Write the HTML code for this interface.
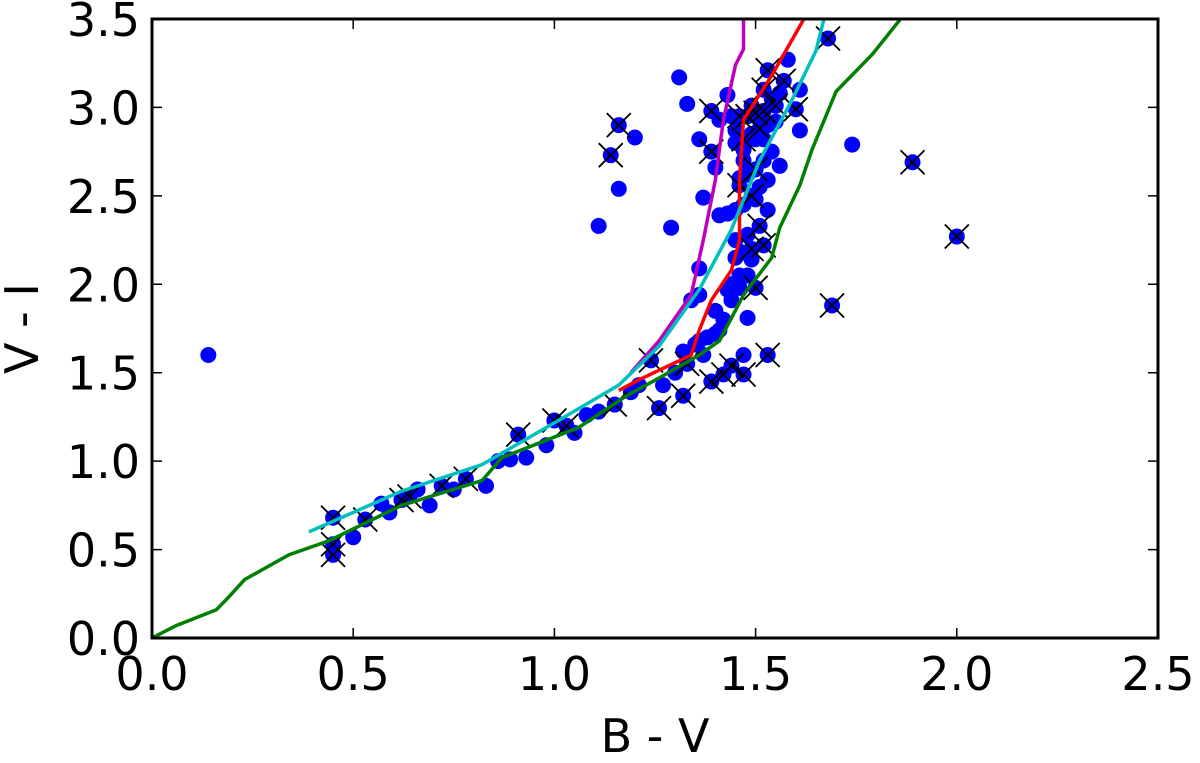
<!DOCTYPE html>
<html><head><meta charset="utf-8"><style>
body{margin:0;background:#fff}
svg text{font-family:"DejaVu Sans","Liberation Sans",sans-serif;fill:#000}
</style></head><body>
<svg id="chart" width="1200" height="758" xmlns="http://www.w3.org/2000/svg">
<g id="plot"></g>
</svg>
<script>
const xTicks=[0.0,0.5,1.0,1.5,2.0,2.5];
const yTicks=[0.0,0.5,1.0,1.5,2.0,2.5,3.0,3.5];
const ptsX=[0.14,0.45,0.45,0.45,0.50,0.53,0.57,0.59,0.62,0.64,0.66,0.69,0.72,0.75,0.78,0.83,0.86,0.89,0.91,0.93,0.98,1.0,1.03,1.05,1.08,1.11,1.15,1.19,1.21,1.24,1.26,1.27,1.30,1.32,1.32,1.35,1.36,1.39,1.41,1.42,1.44,1.47,1.47,1.53,1.50,1.48,1.44,1.40,1.36,1.34,1.36,1.29,1.11,1.16,1.14,1.16,1.20,1.31,1.33,1.36,1.40,1.37,1.39,1.41,1.39,1.43,1.45,1.47,1.46,1.41,1.45,1.48,1.50,1.51,1.52,1.53,1.53,1.56,1.49,1.52,1.53,1.57,1.58,1.61,1.60,1.55,1.61,1.51,1.49,1.46,1.43,1.74,1.68,1.89,2.0,1.69,1.47,1.50,1.52,
1.44,1.46,1.48,1.50,1.52,1.54,1.56,1.45,1.47,1.49,1.51,1.53,1.55,1.46,1.48,1.50,1.52,1.54,1.43,1.45,1.47,1.49,1.51,1.45,1.47,1.49,1.44,1.46,1.48,1.42,1.38,1.40,1.37,1.33];
const ptsY=[1.60,0.68,0.53,0.47,0.57,0.67,0.76,0.71,0.78,0.80,0.84,0.75,0.86,0.84,0.90,0.86,1.0,1.01,1.15,1.02,1.09,1.23,1.2,1.16,1.26,1.28,1.32,1.39,1.43,1.57,1.30,1.43,1.50,1.62,1.37,1.66,1.68,1.45,1.74,1.49,1.54,1.49,1.60,1.60,1.98,1.81,1.91,1.85,1.94,1.91,2.09,2.32,2.33,2.54,2.73,2.90,2.83,3.17,3.02,2.82,2.66,2.49,2.75,2.93,2.98,3.07,2.87,2.76,2.56,2.39,2.25,2.28,2.48,2.33,2.22,2.42,2.59,2.67,3.01,3.10,3.21,3.15,3.27,3.10,2.99,3.01,2.87,2.93,2.14,2.05,1.97,2.79,3.39,2.69,2.27,1.88,2.70,2.82,2.82,
2.95,2.95,2.95,2.97,2.98,3.05,3.08,2.80,2.82,2.85,2.88,2.90,2.92,2.60,2.62,2.65,2.70,2.75,2.40,2.42,2.45,2.50,2.55,2.15,2.18,2.20,2.00,1.98,2.05,1.80,1.70,1.72,1.60,1.55];
const ptsFlag=[0,1,1,1,0,1,0,0,1,1,0,0,1,0,1,0,0,0,1,0,0,1,1,0,0,0,1,0,0,1,1,0,0,0,1,0,0,1,0,1,1,1,0,1,1,0,0,0,0,0,0,0,0,0,1,1,0,0,0,0,0,0,1,0,1,0,0,0,1,0,0,0,0,1,1,0,0,0,0,1,1,1,0,0,1,1,0,0,0,0,0,0,1,1,1,1,0,0,0,
0,1,1,1,1,0,0,0,1,0,1,0,0,0,0,1,0,0,0,0,0,1,0,0,0,1,0,0,0,0,0,0,0,1];
const greenX=[0,0.06,0.16,0.19,0.23,0.34,0.44,0.62,0.82,0.87,1.06,1.18,1.26,1.36,1.41,1.47,1.54,1.56,1.61,1.64,1.70,1.79,1.86];
const greenY=[0,0.07,0.16,0.23,0.33,0.47,0.55,0.75,0.89,1.02,1.19,1.37,1.47,1.60,1.68,1.94,2.15,2.32,2.56,2.76,3.09,3.30,3.50];
const redX=[1.16,1.21,1.34,1.36,1.39,1.44,1.46,1.46,1.47,1.54,1.59,1.62];
const redY=[1.40,1.46,1.60,1.74,1.91,2.08,2.25,2.59,2.93,3.18,3.38,3.50];
const magX=[1.19,1.26,1.34,1.37,1.40,1.42,1.45,1.47,1.47];
const magY=[1.50,1.68,1.94,2.25,2.59,2.93,3.24,3.33,3.50];
const cyanX=[0.39,0.62,0.82,1.01,1.16,1.26,1.36,1.44,1.51,1.59,1.65,1.67];
const cyanY=[0.60,0.83,0.98,1.23,1.43,1.65,1.97,2.31,2.70,3.04,3.32,3.50];

const L=152,R=1158,T=19,B=638;
const sx=v=>L+v/2.5*(R-L);
const sy=v=>B-v/3.5*(B-T);
const NS="http://www.w3.org/2000/svg";
const svg=document.getElementById('chart');
const g=document.getElementById('plot');
function mk(t,a,p){const e=document.createElementNS(NS,t);for(const k in a)e.setAttribute(k,a[k]);(p||g).appendChild(e);return e;}
const clip=mk('clipPath',{id:'cp'},svg);mk('rect',{x:L,y:T,width:R-L,height:B-T},clip);
const data=mk('g',{'clip-path':'url(#cp)'});


for(let i=0;i<ptsX.length;i++){
  const c=mk('circle',{cx:sx(ptsX[i]),cy:sy(ptsY[i]),r:8,fill:'#0000ff'},data);
  
  
}
for(let i=0;i<ptsX.length;i++){ if(!ptsFlag[i])continue;
  const x=sx(ptsX[i]),y=sy(ptsY[i]),d=12;
  const p=mk('path',{d:`M${x-d},${y-d}L${x+d},${y+d}M${x-d},${y+d}L${x+d},${y-d}`,stroke:'#000','stroke-width':1.8},data);
  
  
}
function line(xs,ys,col,name){
  const d=xs.map((v,i)=>(i?'L':'M')+sx(v)+','+sy(ys[i])).join('');
  const p=mk('path',{d:d,fill:'none',stroke:col,'stroke-width':3.5},data);
  
  
}
line(greenX,greenY,'#008000','green-track');
line(magX,magY,'#bf00bf','magenta-track');
line(redX,redY,'#ff0000','red-track');
line(cyanX,cyanY,'#00bfbf','cyan-track');
const fr=mk('rect',{x:L,y:T,width:R-L,height:B-T,fill:'none',stroke:'#000','stroke-width':3});


xTicks.forEach(v=>{const x=sx(v);
  mk('path',{d:`M${x},${B}v-10M${x},${T}v10`,stroke:'#000','stroke-width':1.5});
  const t=mk('text',{x:x,y:B+52,'font-size':46,'text-anchor':'middle'});t.textContent=v.toFixed(1);
  
  
});
yTicks.forEach(v=>{const y=sy(v);
  mk('path',{d:`M${L},${y}h10M${R},${y}h-10`,stroke:'#000','stroke-width':1.5});
  const t=mk('text',{x:L-12,y:y+17,'font-size':46,'text-anchor':'end'});t.textContent=v.toFixed(1);
  
  
});
const xl=mk('text',{x:(L+R)/2,y:752,'font-size':46,'text-anchor':'middle'});xl.textContent='B - V';


const yl=mk('text',{x:0,y:0,'font-size':46,'text-anchor':'middle',transform:`translate(38,${(T+B)/2}) rotate(-90)`});yl.textContent='V - I';


</script>
</body></html>
